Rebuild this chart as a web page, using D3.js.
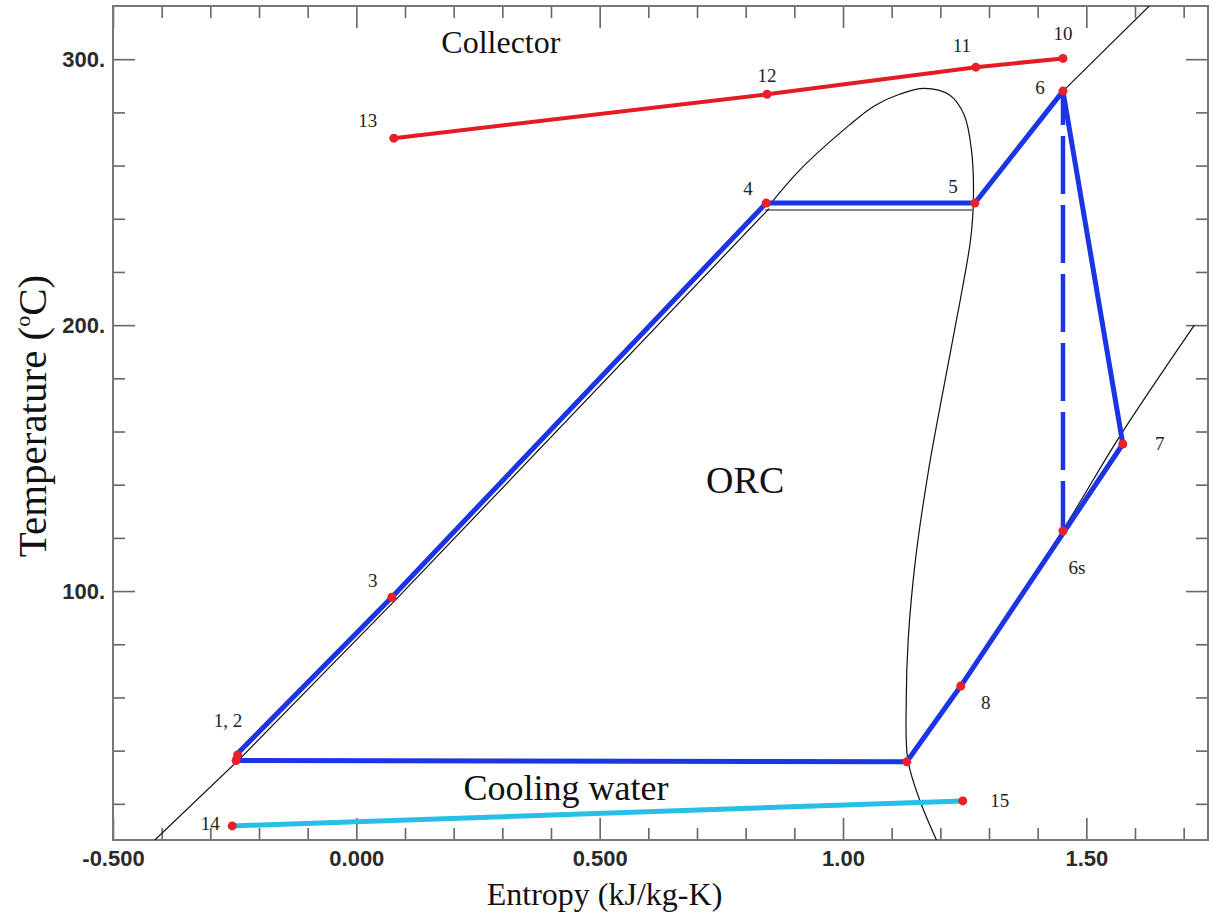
<!DOCTYPE html>
<html>
<head>
<meta charset="utf-8">
<script src="https://cdn.jsdelivr.net/npm/d3@7"></script>
<style>
  body { margin: 0; background: #fff; }
  svg { display: block; }
</style>
</head>
<body>
<svg id="chart" width="1212" height="922"></svg>
<script>
// ---------------- DATA ----------------
// ORC cycle path: 1 -> 2 -> 3 -> 4 -> 5 -> 6 -> 7 -> 8 -> sat. vapour -> 1
const cycleS = [-0.247, -0.243, 0.073, 0.842, 1.271, 1.452, 1.575, 1.242, 1.131, -0.247];
const cycleT = [36.3, 39.1, 97.7, 245.9, 245.9, 288.0, 155.3, 64.3, 35.8, 36.3];

// isentropic expansion 6 -> 6s
const isentropicS = [1.452, 1.452];
const isentropicT = [288.0, 122.6];

// collector (heat transfer fluid) 13 -> 12 -> 11 -> 10
const collectorS = [0.077, 0.844, 1.273, 1.452];
const collectorT = [270.3, 286.8, 297.0, 300.3];

// cooling water 14 -> 15
const coolingS = [-0.255, 1.246];
const coolingT = [11.7, 21.1];

// saturated liquid line (bottom -> point 4)
const liqS = [-0.414, -0.239, 0.086, 0.848];
const liqT = [6.4, 37.0, 97.7, 243.8];
// vapour dome (point 4 -> critical point -> saturated vapour line)
const domeS = [0.846, 0.911, 1.013, 1.065, 1.116, 1.167, 1.219, 1.249, 1.264, 1.268, 1.262, 1.241, 1.210, 1.176, 1.149, 1.134, 1.130, 1.133, 1.157, 1.192];
const domeT = [244.5, 258.3, 275.2, 282.5, 286.8, 289.0, 286.5, 279.0, 265.8, 247.0, 232.0, 209.5, 179.5, 145.7, 111.9, 81.8, 59.3, 36.8, 21.7, 6.4];

// isobars
const isoEvapS = [0.840, 1.266];
const isoEvapT = [243.3, 243.3];
const isoHighS = [1.452, 1.631];
const isoHighT = [288.0, 320.3];
const isoLowS = [1.131, 1.242, 1.452, 1.568, 1.722];
const isoLowT = [35.8, 64.3, 123.0, 158.0, 200.0];

// state points (red dots)
const stateNames = ["1", "2", "3", "4", "5", "6", "6s", "7", "8", "", "10", "11", "12", "13", "14", "15"];
const stateS = [-0.247, -0.244, 0.073, 0.842, 1.271, 1.452, 1.452, 1.575, 1.242, 1.131, 1.452, 1.273, 0.844, 0.077, -0.255, 1.246];
const stateT = [36.3, 38.4, 97.7, 245.9, 245.9, 288.0, 122.6, 155.3, 64.3, 35.8, 300.3, 297.0, 286.8, 270.3, 11.7, 21.1];

// point labels
const labelTexts = ["1, 2", "3", "4", "5", "6", "6s", "7", "8", "10", "11", "12", "13", "14", "15"];
const labelS = [-0.245, 0.073, 0.842, 1.271, 1.452, 1.452, 1.575, 1.242, 1.452, 1.273, 0.844, 0.077, -0.255, 1.246];
const labelT = [37.5, 97.7, 245.9, 245.9, 288.0, 122.6, 155.3, 64.3, 300.3, 297.0, 286.8, 270.3, 11.7, 21.1];

// region annotations
const regionTexts = ["Collector", "ORC", "Cooling water"];
const regionS = [0.297, 0.799, 0.431];
const regionT = [302.3, 136.8, 21.6];

// axes
const xDomain = [-0.5, 1.75];
const yDomain = [6.4, 320];
const xMajorTicks = [-0.5, 0.0, 0.5, 1.0, 1.5];
const xTickLabels = ["-0.500", "0.000", "0.500", "1.00", "1.50"];
const xMinorTicks = [-0.4, -0.3, -0.2, -0.1, 0.1, 0.2, 0.3, 0.4, 0.6, 0.7, 0.8, 0.9, 1.1, 1.2, 1.3, 1.4, 1.6, 1.7];
const yMajorTicks = [100, 200, 300];
const yTickLabels = ["100.", "200.", "300."];
const yMinorTicks = [20, 40, 60, 80, 120, 140, 160, 180, 220, 240, 260, 280];

// ---------------- LAYOUT ----------------
const W = 1212, H = 922;
const margin = { left: 113, right: 4, top: 6, bottom: 82 };
const iw = W - margin.left - margin.right;
const ih = H - margin.top - margin.bottom;

const svg = d3.select("#chart");
const g = svg.append("g").attr("transform", `translate(${margin.left},${margin.top})`);

const x = d3.scaleLinear().domain(xDomain).range([0, iw]);
const y = d3.scaleLinear().domain(yDomain).range([ih, 0]);

svg.append("defs").append("clipPath").attr("id", "plotclip")
  .append("rect").attr("x", 0).attr("y", 0).attr("width", iw).attr("height", ih);

const tickColor = "#666";
const sans = "'Liberation Sans', Arial, sans-serif";
const serif = "'Liberation Serif', 'Times New Roman', serif";

function styleAxis(sel) {
  sel.select(".domain").remove();
  sel.selectAll(".tick line").attr("stroke", tickColor).attr("stroke-width", 1.6);
  sel.selectAll(".tick text").attr("font-family", sans).attr("font-size", 22)
    .attr("font-weight", "bold").attr("fill", "#2a2a2a");
}

// bottom axis (inward ticks)
g.append("g").attr("transform", `translate(0,${ih})`)
  .call(d3.axisBottom(x).tickValues(xMajorTicks).tickSize(-22).tickPadding(10)
    .tickFormat((d, i) => xTickLabels[i]))
  .call(styleAxis);
g.append("g").attr("transform", `translate(0,${ih})`)
  .call(d3.axisBottom(x).tickValues(xMinorTicks).tickSize(-12).tickFormat(""))
  .call(styleAxis);
// top axis
g.append("g")
  .call(d3.axisTop(x).tickValues(xMajorTicks).tickSize(-22).tickFormat(""))
  .call(styleAxis);
g.append("g")
  .call(d3.axisTop(x).tickValues(xMinorTicks).tickSize(-12).tickFormat(""))
  .call(styleAxis);
// left axis
g.append("g")
  .call(d3.axisLeft(y).tickValues(yMajorTicks).tickSize(-22).tickPadding(8)
    .tickFormat((d, i) => yTickLabels[i]))
  .call(styleAxis);
g.append("g")
  .call(d3.axisLeft(y).tickValues(yMinorTicks).tickSize(-12).tickFormat(""))
  .call(styleAxis);
// right axis
g.append("g").attr("transform", `translate(${iw},0)`)
  .call(d3.axisRight(y).tickValues(yMajorTicks).tickSize(-22).tickFormat(""))
  .call(styleAxis);
g.append("g").attr("transform", `translate(${iw},0)`)
  .call(d3.axisRight(y).tickValues(yMinorTicks).tickSize(-12).tickFormat(""))
  .call(styleAxis);

// frame
g.append("rect").attr("x", 0).attr("y", 0).attr("width", iw).attr("height", ih)
  .attr("fill", "none").attr("stroke", "#777").attr("stroke-width", 2);

const plot = g.append("g").attr("clip-path", "url(#plotclip)");

const zip = (S, T) => S.map((s, i) => [s, T[i]]);
const line = d3.line().x(d => x(d[0])).y(d => y(d[1]));
const smooth = d3.line().x(d => x(d[0])).y(d => y(d[1])).curve(d3.curveCatmullRom.alpha(0.5));

// thin black property lines
const thin = sel => sel.attr("fill", "none").attr("stroke", "#111").attr("stroke-width", 1.2);
plot.append("path").attr("d", line(zip(liqS, liqT))).call(thin);
plot.append("path").attr("d", smooth(zip(domeS, domeT))).call(thin);
plot.append("path").attr("d", line(zip(isoEvapS, isoEvapT))).call(thin);
plot.append("path").attr("d", line(zip(isoHighS, isoHighT))).call(thin);
plot.append("path").attr("d", smooth(zip(isoLowS, isoLowT))).call(thin);

// collector line
plot.append("path").attr("d", line(zip(collectorS, collectorT)))
  .attr("fill", "none").attr("stroke", "#e31b23").attr("stroke-width", 4);
// cooling water
plot.append("path").attr("d", line(zip(coolingS, coolingT)))
  .attr("fill", "none").attr("stroke", "#27bfe6").attr("stroke-width", 5);
// ORC cycle
plot.append("path").attr("d", line(zip(cycleS, cycleT)))
  .attr("fill", "none").attr("stroke", "#1b34e4").attr("stroke-width", 5)
  .attr("stroke-linejoin", "round");
// isentropic dashed
plot.append("path").attr("d", line(zip(isentropicS, isentropicT)))
  .attr("fill", "none").attr("stroke", "#1b34e4").attr("stroke-width", 4.5)
  .attr("stroke-dasharray", "58,11").attr("stroke-dashoffset", 24);

// state points
plot.selectAll("circle.state").data(zip(stateS, stateT)).join("circle")
  .attr("class", "state")
  .attr("cx", d => x(d[0])).attr("cy", d => y(d[1])).attr("r", 4.5)
  .attr("fill", "#e8202a");

// point labels (offsets in pixels relative to the point)
const labelOffset = {
  "1, 2": [-9, -30], "3": [-19, -10], "4": [-18, -8], "5": [-22, -10],
  "6": [-23, 3], "6s": [14, 43], "7": [37, 6], "8": [25, 23],
  "10": [0, -18], "11": [-14, -15], "12": [0, -12], "13": [-26, -11],
  "14": [-22, 4], "15": [37, 6]
};
g.selectAll("text.plabel").data(labelTexts).join("text")
  .attr("class", "plabel")
  .attr("x", (d, i) => x(labelS[i]) + labelOffset[d][0])
  .attr("y", (d, i) => y(labelT[i]) + labelOffset[d][1])
  .attr("text-anchor", "middle")
  .attr("font-family", serif).attr("font-size", 19).attr("fill", "#222")
  .text(d => d);

// region annotations
const regionSize = { "Collector": 32, "ORC": 38, "Cooling water": 36 };
g.selectAll("text.region").data(regionTexts).join("text")
  .attr("class", "region")
  .attr("x", (d, i) => x(regionS[i]))
  .attr("y", (d, i) => y(regionT[i]))
  .attr("text-anchor", "middle")
  .attr("font-family", serif).attr("font-size", d => regionSize[d]).attr("fill", "#111")
  .text(d => d);

// axis titles
svg.append("text").attr("x", margin.left + x(0.51)).attr("y", 905).attr("text-anchor", "middle")
  .attr("font-family", serif).attr("font-size", 32).attr("fill", "#111")
  .text("Entropy (kJ/kg-K)");

const yt = svg.append("text")
  .attr("transform", `translate(46,${416}) rotate(-90)`)
  .attr("text-anchor", "middle")
  .attr("font-family", serif).attr("font-size", 41).attr("fill", "#111");
yt.append("tspan").text("Temperature (");
yt.append("tspan").attr("dy", -16).attr("font-size", 22).text("o");
yt.append("tspan").attr("dy", 16).text("C)");
</script>
</body>
</html>
